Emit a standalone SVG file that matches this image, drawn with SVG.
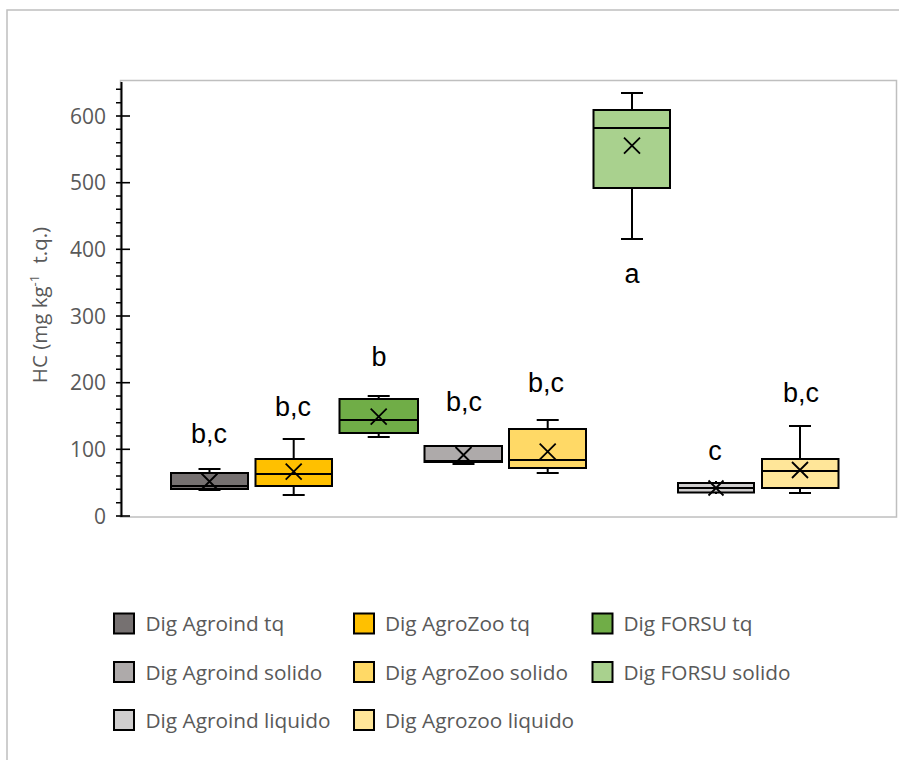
<svg xmlns="http://www.w3.org/2000/svg" width="899" height="760" viewBox="0 0 899 760">
<style>
.frame{fill:none;stroke:#bfbfbf;stroke-width:1.5}
.ax{stroke:#000;stroke-width:2;fill:none}
.tk{stroke:#000;stroke-width:1.6}
.tl{font-family:"Open Sans",sans-serif;font-size:21px;fill:#595959;text-anchor:end}
.box{stroke:#000;stroke-width:2}
.wh{stroke:#000;stroke-width:2;fill:none}
.mx{stroke:#000;stroke-width:1.8;fill:none}
.lab{font-family:"Liberation Sans",Arial,sans-serif;font-size:27px;fill:#000;text-anchor:middle}
.lg{font-family:"Open Sans",sans-serif;font-size:20.8px;fill:#595959}
.sw{stroke:#000;stroke-width:2}
</style>
<rect x="0" y="0" width="899" height="760" fill="#fff"/>
<rect class="frame" x="7" y="10" width="920" height="780"/>
<g id="plot-area">
<rect class="frame" x="120.5" y="80.5" width="776" height="436.5"/>
</g>
<g id="y-axis">
<line class="ax" x1="121.5" y1="82" x2="121.5" y2="517"/>
<g class="tk">
<line x1="116" y1="516" x2="130" y2="516"/>
<line x1="116" y1="449.3" x2="130" y2="449.3"/>
<line x1="116" y1="382.7" x2="130" y2="382.7"/>
<line x1="116" y1="316" x2="130" y2="316"/>
<line x1="116" y1="249.3" x2="130" y2="249.3"/>
<line x1="116" y1="182.7" x2="130" y2="182.7"/>
<line x1="116" y1="116" x2="130" y2="116"/>
<path d="M116 502.7H122M116 489.3H122M116 476H122M116 462.7H122
M116 436H122M116 422.7H122M116 409.3H122M116 396H122
M116 369.3H122M116 356H122M116 342.7H122M116 329.3H122
M116 302.7H122M116 289.3H122M116 276H122M116 262.7H122
M116 236H122M116 222.7H122M116 209.3H122M116 196H122
M116 169.3H122M116 156H122M116 142.7H122M116 129.3H122
M116 102.7H122M116 89.3H122" fill="none"/>
</g>
<text class="tl" x="106" y="523.5">0</text>
<text class="tl" x="106" y="456.8">100</text>
<text class="tl" x="106" y="390.2">200</text>
<text class="tl" x="106" y="323.5">300</text>
<text class="tl" x="106" y="256.8">400</text>
<text class="tl" x="106" y="190.2">500</text>
<text class="tl" x="106" y="123.5">600</text>
<text transform="translate(47,305) rotate(-90)" text-anchor="middle" font-family="'Open Sans',sans-serif" font-size="20.5" fill="#595959">HC (mg kg<tspan dy="-8" font-size="13">-1</tspan><tspan dy="8" dx="6"> t.q.)</tspan></text>
</g>
<g id="box-agroind-tq">
<line class="wh" x1="209.5" y1="469" x2="209.5" y2="490"/>
<line class="wh" x1="198.5" y1="469" x2="220.5" y2="469"/>
<line class="wh" x1="198.5" y1="490" x2="220.5" y2="490"/>
<rect class="box" x="171" y="473" width="77" height="16" fill="#767171"/>
<line class="wh" x1="171" y1="486" x2="248" y2="486"/>
<path class="mx" d="M201.5 473.5L217.5 489.5M217.5 473.5L201.5 489.5"/>
<text class="lab" x="209" y="443">b,c</text>
</g>
<g id="box-agrozoo-tq">
<line class="wh" x1="293.7" y1="439" x2="293.7" y2="495"/>
<line class="wh" x1="282.7" y1="439" x2="304.7" y2="439"/>
<line class="wh" x1="282.7" y1="495" x2="304.7" y2="495"/>
<rect class="box" x="255.5" y="459" width="76.5" height="27" fill="#ffc000"/>
<line class="wh" x1="255.5" y1="474" x2="332" y2="474"/>
<path class="mx" d="M285.7 463.7L301.7 479.7M301.7 463.7L285.7 479.7"/>
<text class="lab" x="293" y="416">b,c</text>
</g>
<g id="box-forsu-tq">
<line class="wh" x1="378.7" y1="396" x2="378.7" y2="437"/>
<line class="wh" x1="367.7" y1="396" x2="389.7" y2="396"/>
<line class="wh" x1="367.7" y1="437" x2="389.7" y2="437"/>
<rect class="box" x="339.5" y="399" width="78.5" height="34" fill="#70ad47"/>
<line class="wh" x1="339.5" y1="420" x2="418" y2="420"/>
<path class="mx" d="M370.7 408.7L386.7 424.7M386.7 408.7L370.7 424.7"/>
<text class="lab" x="379" y="366">b</text>
</g>
<g id="box-agroind-solido">
<line class="wh" x1="463.5" y1="445" x2="463.5" y2="464"/>
<line class="wh" x1="452.5" y1="464" x2="474.5" y2="464"/>
<rect class="box" x="424.5" y="446" width="77.5" height="16" fill="#aeaaaa"/>
<line class="wh" x1="424.5" y1="461" x2="502" y2="461"/>
<path class="mx" d="M455.5 447L471.5 463M471.5 447L455.5 463"/>
<text class="lab" x="464" y="411">b,c</text>
</g>
<g id="box-agrozoo-solido">
<line class="wh" x1="547.7" y1="420" x2="547.7" y2="473"/>
<line class="wh" x1="536.7" y1="420" x2="558.7" y2="420"/>
<line class="wh" x1="536.7" y1="473" x2="558.7" y2="473"/>
<rect class="box" x="509" y="429" width="77" height="39" fill="#ffd966"/>
<line class="wh" x1="509" y1="460" x2="586" y2="460"/>
<path class="mx" d="M539.7 443.7L555.7 459.7M555.7 443.7L539.7 459.7"/>
<text class="lab" x="546" y="392">b,c</text>
</g>
<g id="box-forsu-solido">
<line class="wh" x1="632" y1="93" x2="632" y2="239"/>
<line class="wh" x1="621" y1="93" x2="643" y2="93"/>
<line class="wh" x1="621" y1="239" x2="643" y2="239"/>
<rect class="box" x="593.5" y="110" width="76.5" height="78" fill="#a9d18e"/>
<line class="wh" x1="593.5" y1="128" x2="670" y2="128"/>
<path class="mx" d="M624 137.7L640 153.7M640 137.7L624 153.7"/>
<text class="lab" x="632" y="283">a</text>
</g>
<g id="box-agroind-liquido">
<line class="wh" x1="716" y1="481" x2="716" y2="494"/>
<rect class="box" x="678" y="483" width="76" height="9.5" fill="#d0cece"/>
<line class="wh" x1="678" y1="488" x2="754" y2="488"/>
<path class="mx" d="M708.5 480.5L723.5 495.5M723.5 480.5L708.5 495.5"/>
<text class="lab" x="715" y="460">c</text>
</g>
<g id="box-agrozoo-liquido">
<line class="wh" x1="800" y1="426" x2="800" y2="493"/>
<line class="wh" x1="789" y1="426" x2="811" y2="426"/>
<line class="wh" x1="789" y1="493" x2="811" y2="493"/>
<rect class="box" x="762" y="459" width="76.5" height="29" fill="#ffe699"/>
<line class="wh" x1="762" y1="471" x2="838.5" y2="471"/>
<path class="mx" d="M792 462L808 478M808 462L792 478"/>
<text class="lab" x="801" y="402">b,c</text>
</g>
<g id="legend">
<rect class="sw" x="114" y="613.5" width="20" height="20" fill="#767171"/>
<text class="lg" x="145.5" y="631">Dig Agroind tq</text>
<rect class="sw" x="354" y="613.5" width="20" height="20" fill="#ffc000"/>
<text class="lg" x="385" y="631">Dig AgroZoo tq</text>
<rect class="sw" x="592.5" y="613.5" width="20" height="20" fill="#70ad47"/>
<text class="lg" x="623.5" y="631">Dig FORSU tq</text>
<rect class="sw" x="114" y="662" width="20" height="20" fill="#aeaaaa"/>
<text class="lg" x="145.5" y="679.5">Dig Agroind solido</text>
<rect class="sw" x="354" y="662" width="20" height="20" fill="#ffd966"/>
<text class="lg" x="385" y="679.5">Dig AgroZoo solido</text>
<rect class="sw" x="592.5" y="662" width="20" height="20" fill="#a9d18e"/>
<text class="lg" x="623.5" y="679.5">Dig FORSU solido</text>
<rect class="sw" x="114" y="710" width="20" height="20" fill="#d0cece"/>
<text class="lg" x="145.5" y="727.5">Dig Agroind liquido</text>
<rect class="sw" x="354" y="710" width="20" height="20" fill="#ffe699"/>
<text class="lg" x="385" y="727.5">Dig Agrozoo liquido</text>
</g>
</svg>
